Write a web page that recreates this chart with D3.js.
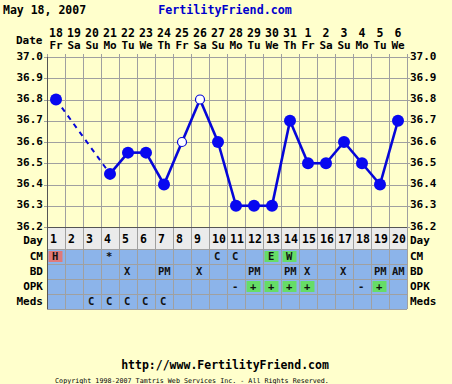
<!DOCTYPE html>
<html><head><meta charset="utf-8">
<script src="https://cdn.jsdelivr.net/npm/d3@7"></script>
<style>
html,body{margin:0;padding:0;background:#ffffcc;}
svg{display:block;}
text{font-family:"DejaVu Sans Mono",monospace;font-weight:bold;fill:#000;}
</style></head>
<body><svg id="c" width="452" height="384"></svg>
<script>
const days = d3.range(1, 21);
const dates = ["18","19","20","21","22","23","24","25","26","27","28","29","30","31","1","2","3","4","5","6"];
const weekdays = ["Fr","Sa","Su","Mo","Tu","We","Th","Fr","Sa","Su","Mo","Tu","We","Th","Fr","Sa","Su","Mo","Tu","We"];
const temps = [36.8,null,null,36.45,36.55,36.55,36.4,36.6,36.8,36.6,36.3,36.3,36.3,36.7,36.5,36.5,36.6,36.5,36.4,36.7];
const openTemps = [8, 9];
const tempTicks = [37.0,36.9,36.8,36.7,36.6,36.5,36.4,36.3,36.2];
const cm   = ["H","","","*","","","","","","C","C","","E","W","","","","","",""];
const bd   = ["","","","","X","","PM","","X","","","PM","","PM","X","","X","","PM","AM"];
const opk  = ["","","","","","","","","","","-","+","+","+","+","","","-","+",""];
const meds = ["","","C","C","C","C","C","","","","","","","","","","","","",""];
const cmMark  = {H:"red", E:"green", W:"green"};
const opkMark = {"+":"green"};
const rowNames = ["CM","BD","OPK","Meds"];

(function(){
const svg = d3.select("#c");
const W = 452, H = 384;
const pL = 47, pR = 407, pT = 57, pB = 227;
const colW = (pR-pL)/20;
const x = d3.scaleLinear().domain([0.5, 20.5]).range([pL, pR]);
const y = d3.scaleLinear().domain([36.2, 37.0]).range([pB, pT]);
const rowTops = [249, 264, 279, 294], rowH = 15, dayTop = pB;
const tableBottom = 309;
const grid = "#a0a0a0", blue = "#8cb4ea", green = "#66dd66", red = "#e07a7a";

svg.append("rect").attr("width", W).attr("height", H).attr("fill", "#ffffcc");

// header
svg.append("text").attr("x", 3).attr("y", 14).style("font-size","11.5px").text("May 18, 2007");
svg.append("text").attr("x", 225).attr("y", 14).attr("text-anchor","middle").style("font-size","11.7px").style("fill","#0000cc").text("FertilityFriend.com");
svg.append("text").attr("x", 16).attr("y", 44).style("font-size","11px").text("Date");
svg.selectAll(".dn").data(days).join("text").attr("x", d => x(d)).attr("y", 37)
  .attr("text-anchor","middle").style("font-size","11.5px").text((d,i) => dates[i]);
svg.selectAll(".wd").data(days).join("text").attr("x", d => x(d)).attr("y", 49)
  .attr("text-anchor","middle").style("font-size","11px").text((d,i) => weekdays[i]);

// day row bg & table rows
svg.append("rect").attr("x", pL).attr("y", dayTop).attr("width", pR-pL).attr("height", rowTops[0]-dayTop).attr("fill", "#ebebeb");
rowTops.forEach(t => svg.append("rect").attr("x", pL).attr("y", t).attr("width", pR-pL).attr("height", rowH).attr("fill", blue));

// highlighted cells
function marks(arr, map, ti) {
  arr.forEach((v, i) => {
    if (map[v]) svg.append("rect").attr("x", x(days[i]) - colW/2 + 1.5).attr("y", rowTops[ti] + 2)
      .attr("width", colW - 4).attr("height", rowH - 4).attr("fill", map[v] === "red" ? red : green);
  });
}
marks(cm, cmMark, 0);
marks(opk, opkMark, 2);

// grid
const g = svg.append("g").attr("stroke", grid).attr("stroke-width", 1).attr("shape-rendering","crispEdges");
tempTicks.forEach(t => g.append("line").attr("x1", pL-3).attr("x2", pR+3).attr("y1", Math.round(y(t))+0.5).attr("y2", Math.round(y(t))+0.5));
d3.range(0, 21).forEach(k => {
  const xx = Math.round(pL + k*colW) + 0.5;
  g.append("line").attr("x1", xx).attr("x2", xx).attr("y1", pT-3).attr("y2", tableBottom);
});
[rowTops[0], rowTops[1], rowTops[2], rowTops[3], tableBottom].forEach(t =>
  g.append("line").attr("x1", pL).attr("x2", pR).attr("y1", t+0.5).attr("y2", t+0.5));
svg.append("line").attr("x1", pL).attr("x2", pR).attr("y1", pB+0.5).attr("y2", pB+0.5).attr("stroke","#555");
svg.append("line").attr("x1", pL+0.5).attr("x2", pL+0.5).attr("y1", pT).attr("y2", tableBottom).attr("stroke","#555");

// axis labels
tempTicks.forEach(t => {
  svg.append("text").attr("x", 43).attr("y", y(t)+2.5).attr("text-anchor","end").style("font-size","11px").text(t.toFixed(1));
  svg.append("text").attr("x", 410).attr("y", y(t)+2.5).style("font-size","11px").text(t.toFixed(1));
});
svg.append("text").attr("x", 43).attr("y", 244).attr("text-anchor","end").style("font-size","11px").text("Day");
svg.append("text").attr("x", 410).attr("y", 244).style("font-size","11px").text("Day");
rowNames.forEach((n, i) => {
  svg.append("text").attr("x", 43).attr("y", rowTops[i]+11).attr("text-anchor","end").style("font-size","11px").text(n);
  svg.append("text").attr("x", 410).attr("y", rowTops[i]+11).style("font-size","11px").text(n);
});

// day numbers
svg.selectAll(".dd").data(days).join("text").attr("x", d => x(d) - colW/2 + 3).attr("y", 243)
  .style("font-size","11.5px").text(d => d);

// row texts
[cm, bd, opk, meds].forEach((arr, ti) => {
  arr.forEach((v, i) => {
    if (!v) return;
    svg.append("text").attr("x", x(days[i]) - colW/2 + (v.length > 1 ? 3 : 5)).attr("y", rowTops[ti]+11)
      .style("font-size","10.5px").style("fill","#111").text(v);
  });
});

// temperature line
const pts = days.map((d, i) => ({d, t: temps[i]})).filter(p => p.t != null);
const lineG = svg.append("g");
for (let i = 1; i < pts.length; i++) {
  const a = pts[i-1], b = pts[i];
  const dashed = b.d - a.d > 1;
  lineG.append("line").attr("x1", x(a.d)).attr("y1", y(a.t)).attr("x2", x(b.d)).attr("y2", y(b.t))
    .attr("stroke", "#0606d8").attr("stroke-width", dashed ? 2 : 2.6)
    .attr("stroke-dasharray", dashed ? "5,5" : null);
}
svg.selectAll(".pt").data(pts).join("circle")
  .attr("cx", p => x(p.d)).attr("cy", p => y(p.t))
  .attr("r", p => openTemps.includes(p.d) ? 4.5 : 6)
  .attr("fill", p => openTemps.includes(p.d) ? "#ffffff" : "#0808f0")
  .attr("stroke", "#0606d8").attr("stroke-width", p => openTemps.includes(p.d) ? 1.2 : 0);

// footer
svg.append("text").attr("x", 225).attr("y", 369).attr("text-anchor","middle").style("font-size","11.5px").text("http://www.FertilityFriend.com");
svg.append("text").attr("x", 192).attr("y", 383).attr("text-anchor","middle").style("font-size","6.7px").style("font-weight","normal").text("Copyright 1998-2007 Tamtris Web Services Inc. - All Rights Reserved.");
})();
</script></body></html>
